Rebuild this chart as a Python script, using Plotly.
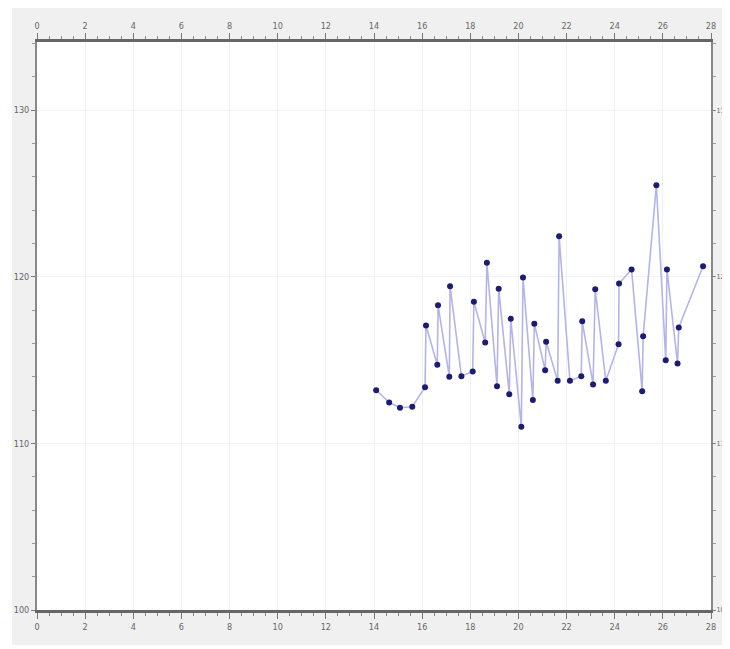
import plotly.graph_objects as go

x_vals = [14.09, 14.63, 15.08, 15.59, 16.12, 16.16, 16.63, 16.66, 17.13, 17.16,
          17.63, 18.10, 18.15, 18.62, 18.69, 19.11, 19.18, 19.62, 19.68, 20.12,
          20.19, 20.60, 20.66, 21.11, 21.15, 21.63, 21.69, 22.14, 22.61, 22.65,
          23.10, 23.19, 23.63, 24.16, 24.18, 24.70, 25.14, 25.18, 25.73, 26.12,
          26.17, 26.61, 26.66, 27.67]
y_vals = [113.2, 112.46, 112.14, 112.2, 113.37, 117.08, 114.72, 118.3, 114.0, 119.44,
          114.04, 114.32, 118.5, 116.06, 120.84, 113.44, 119.28, 112.96, 117.48, 111.0,
          119.96, 112.6, 117.18, 114.4, 116.1, 113.76, 122.44, 113.76, 114.04, 117.34,
          113.54, 119.26, 113.76, 115.96, 119.6, 120.44, 113.14, 116.44, 125.5, 115.0,
          120.44, 114.8, 116.96, 120.64]

x_ticks = list(range(0, 29, 2))
y_ticks = [100, 110, 120, 130]
y_tick_text = ["100", "110", "120", "130"]
x_range = [0, 28]
y_range = [100, 134.1]

fig = go.Figure()
fig.add_trace(go.Scatter(
    x=x_vals, y=y_vals, mode="lines+markers",
    line=dict(color="#b4b4ec", width=1.6),
    marker=dict(color="#1c1c70", size=6),
    showlegend=False, hoverinfo="skip"))
# invisible trace to anchor secondary (mirror-label) axes
fig.add_trace(go.Scatter(x=x_range, y=y_range, xaxis="x2", yaxis="y2",
                         mode="markers", marker=dict(opacity=0),
                         showlegend=False, hoverinfo="skip"))

tfont = dict(family="DejaVu Sans Condensed, Liberation Sans Narrow, sans-serif",
             size=9, color="#666")
tfont_r = dict(family="Liberation Sans Narrow, DejaVu Sans Condensed, sans-serif",
               size=7, color="#666")

common_x = dict(range=x_range, tickvals=x_ticks, ticks="outside", ticklen=6,
                tickcolor="#777", tickwidth=1, tickfont=tfont,
                showline=True, linecolor="#666", linewidth=3,
                minor=dict(dtick=0.5, ticks="outside", ticklen=3, tickcolor="#888",
                           showgrid=False),
                zeroline=False, fixedrange=True, automargin=False)
common_y = dict(range=y_range, tickvals=y_ticks, ticktext=y_tick_text,
                ticks="outside", tickcolor="#777",
                showline=True, linecolor="#888", linewidth=2,
                minor=dict(dtick=2, ticks="outside", ticklen=3, tickcolor="#999",
                           showgrid=False),
                zeroline=False, fixedrange=True, automargin=False)

fig.update_layout(
    width=722, height=641,
    margin=dict(l=29, r=19, t=34, b=39, autoexpand=False),
    paper_bgcolor="white", plot_bgcolor="white",
    xaxis=dict(**common_x, side="bottom", showgrid=True, gridcolor="#f0f0f0",
               gridwidth=1),
    yaxis=dict(**common_y, side="left", ticklen=4, tickfont=tfont,
               showgrid=True, gridcolor="#f2f2f2", gridwidth=1),
    xaxis2=dict(**common_x, side="top", overlaying="x", showgrid=False,
                anchor="y2"),
    yaxis2=dict(**common_y, side="right", ticklen=2, tickfont=tfont_r,
                ticklabelstandoff=0,
                overlaying="y", showgrid=False, anchor="x2"),
    shapes=[dict(type="rect", xref="paper", yref="paper", layer="below",
                 x0=-25 / 674, x1=1 + 14 / 674, y0=-35 / 568, y1=1 + 34 / 568,
                 fillcolor="#f0f0f0", line=dict(width=0)),
            dict(type="rect", xref="paper", yref="paper", layer="below",
                 x0=0, x1=1, y0=0, y1=1, fillcolor="white", line=dict(width=0))],
)

fig.write_html("out.html")
